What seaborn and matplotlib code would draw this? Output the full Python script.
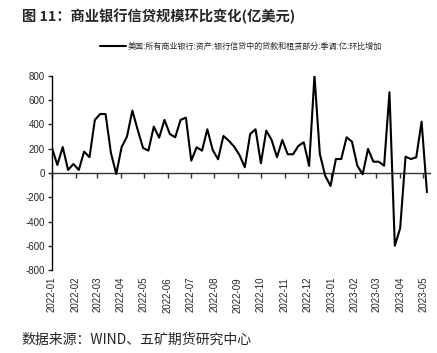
import pandas as pd
import matplotlib
matplotlib.use('Agg')
import matplotlib.pyplot as plt
import matplotlib.dates as mdates
import matplotlib.ticker as mticker
import seaborn as sns

# 周度数据（亿美元，环比增加），读自原图
values = [206, 66, 214, 25, 74, 25, 176, 130, 437, 486, 486, 165, -8, 214, 300,
          514, 355, 206, 184, 382, 291, 437, 321, 294, 437,
          456, 101, 212, 184, 360, 190, 113, 305, 266, 217, 148, 47, 321, 360,
          80, 349, 272, 130, 272, 154, 154, 223,
          253, 58, 802, 157, -22, -107, 115, 115, 294, 258, 60, -11, 198, 93,
          93, 60, 665, -599, -456, 134, 115, 129, 423, -159]
dates = pd.date_range('2022-01-01', periods=len(values), freq='7D')
series_name = '美国:所有商业银行:资产:银行信贷中的贷款和租赁部分:季调:亿:环比增加'
y_ticks = [-800, -600, -400, -200, 0, 200, 400, 600, 800]

df = pd.DataFrame({'date': dates, 'value': values})

sns.set_style('white')
plt.rcParams['font.family'] = ['Noto Sans CJK SC', 'DejaVu Sans']
plt.rcParams['axes.unicode_minus'] = False

fig = plt.figure(figsize=(4.37, 3.53), dpi=100)
ax = fig.add_axes([0.119, 0.235, 0.865, 0.55])

sns.lineplot(data=df, x='date', y='value', color='black', linewidth=1.5,
             label=series_name, ax=ax)

ax.set_ylim(-800, 800)
ax.set_yticks(y_ticks)
ax.set_xlim(pd.Timestamp('2022-01-01'), pd.Timestamp('2023-05-10'))
ax.set_xlabel('')
ax.set_ylabel('')

ax.xaxis.set_major_locator(mdates.MonthLocator())
ax.xaxis.set_major_formatter(mdates.DateFormatter('%Y-%m'))
ax.tick_params(axis='x', length=0, labelsize=7, rotation=90, pad=5,
               labelfontfamily='Liberation Sans')
ax.tick_params(axis='y', direction='out', length=3, width=1, labelsize=7, pad=2,
               left=True, labelfontfamily='Liberation Sans')

for s in ['top', 'right', 'bottom']:
    ax.spines[s].set_visible(False)
ax.spines['left'].set_linewidth(1)
ax.spines['left'].set_color('black')

# 零轴及刻度
sec = ax.secondary_xaxis(0.5)
sec.xaxis.set_major_locator(mdates.MonthLocator())
sec.xaxis.set_major_formatter(mticker.NullFormatter())
sec.tick_params(axis='x', direction='in', length=3.5, width=1, color='#333333')
for s in sec.spines.values():
    s.set_linewidth(1)
    s.set_color('#333333')

ax.legend(loc='lower center', bbox_to_anchor=(0.5, 1.09), frameon=False,
          fontsize=5.8, handlelength=3.2, handletextpad=0.3)

fig.text(0.05, 0.955, '图 11：商业银行信贷规模环比变化(亿美元)', fontsize=10.3,
         fontweight='bold', va='center', ha='left')
fig.text(0.05, 0.037, '数据来源：WIND、五矿期货研究中心', fontsize=10,
         va='center', ha='left')

fig.savefig('out.png', dpi=100)
